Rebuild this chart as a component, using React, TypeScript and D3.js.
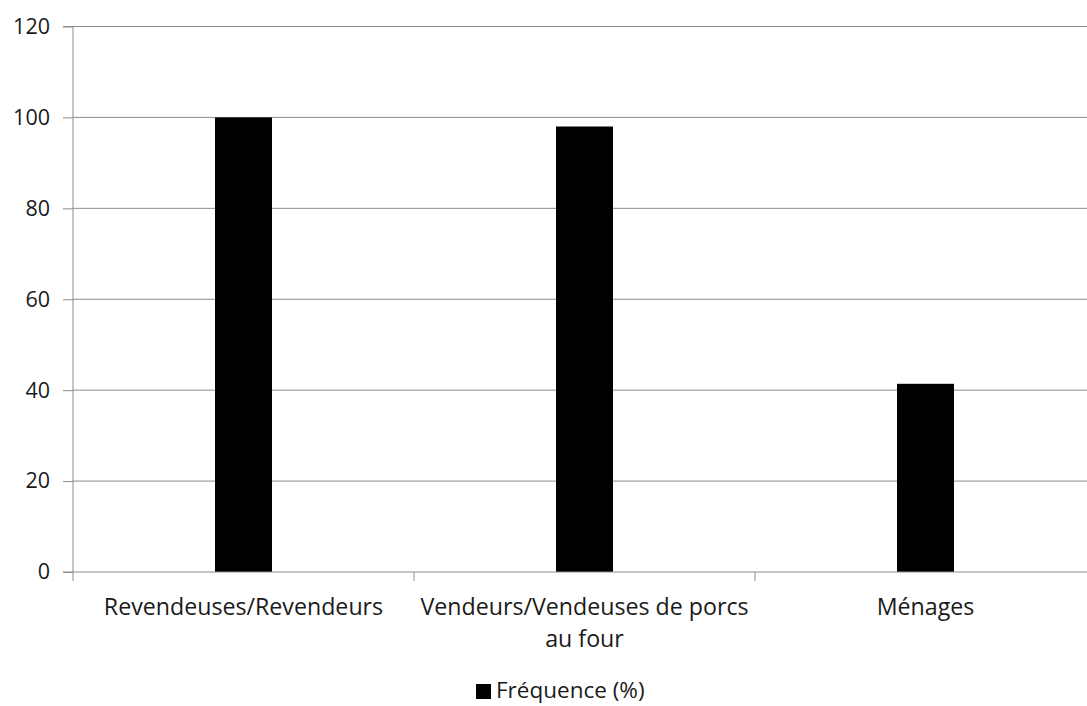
import React, { useEffect, useRef } from "react";
import * as d3 from "d3";

const categories = ["Revendeuses/Revendeurs", "Vendeurs/Vendeuses de porcs au four", "Ménages"];
const values = [100, 98, 41.4];
const seriesName = "Fréquence (%)";
const yTicks = [0, 20, 40, 60, 80, 100, 120];

const W = 1087;
const H = 706;
const FONT = "'Open Sans', sans-serif";
const FS = 21.5;
const FS_CAT = 23.2;
const TXT = "#1a1a1a";

export default function App() {
  const ref = useRef<SVGSVGElement | null>(null);

  useEffect(() => {
    const svg = d3.select(ref.current);
    svg.selectAll("*").remove();

    const left = 73;
    const top = 26.5;
    const bottom = 572;
    const band = 341;
    const x = d3.scaleBand<string>().domain(categories).range([left, left + band * categories.length]).paddingInner(0).paddingOuter(0);
    const y = d3.scaleLinear().domain([0, 120]).range([bottom, top]);
    const right = left + band * categories.length;

    // gridlines
    svg.append("g")
      .selectAll("line")
      .data(yTicks.filter((t) => t > 0))
      .join("line")
      .attr("x1", left)
      .attr("x2", right)
      .attr("y1", (d) => y(d))
      .attr("y2", (d) => y(d))
      .attr("stroke", "#8c8c8c")
      .attr("stroke-width", 1);

    // y axis
    const yAxis = svg.append("g").attr("transform", `translate(${left},0)`)
      .call(d3.axisLeft(y).tickValues(yTicks).tickSize(10).tickPadding(13));
    yAxis.select(".domain").attr("stroke", "#8c8c8c").attr("d", `M-10,${y(120)}H0V${bottom}H-10`);
    yAxis.selectAll(".tick line").attr("stroke", "#8c8c8c");
    yAxis.selectAll("text").attr("font-family", FONT).attr("font-size", FS).attr("fill", TXT);

    // bars
    const bw = 57;
    svg.append("g")
      .selectAll("rect")
      .data(categories)
      .join("rect")
      .attr("x", (d) => (x(d) as number) + x.bandwidth() / 2 - bw / 2)
      .attr("width", bw)
      .attr("y", (_d, i) => y(values[i]))
      .attr("height", (_d, i) => bottom - y(values[i]))
      .attr("fill", "#000");

    // x axis
    svg.append("line").attr("x1", left).attr("x2", right).attr("y1", bottom).attr("y2", bottom).attr("stroke", "#8c8c8c");
    const tickXs = d3.range(categories.length + 1).map((i) => left + i * band);
    svg.append("g").selectAll("line").data(tickXs).join("line")
      .attr("x1", (d) => d).attr("x2", (d) => d)
      .attr("y1", bottom).attr("y2", bottom + 9)
      .attr("stroke", "#8c8c8c");

    // category labels with wrapping
    const maxW = 340;
    const lg = svg.append("g");
    categories.forEach((c) => {
      const cx = (x(c) as number) + x.bandwidth() / 2;
      const t = lg.append("text")
        .attr("x", cx)
        .attr("y", 615)
        .attr("text-anchor", "middle")
        .attr("font-family", FONT)
        .attr("font-size", FS_CAT)
        .attr("fill", TXT);
      const words = c.split(" ");
      let line: string[] = [];
      let tspan = t.append("tspan").attr("x", cx).attr("dy", 0);
      for (const w of words) {
        line.push(w);
        tspan.text(line.join(" "));
        const node = tspan.node() as SVGTextContentElement;
        if (node.getComputedTextLength() > maxW && line.length > 1) {
          line.pop();
          tspan.text(line.join(" "));
          line = [w];
          tspan = t.append("tspan").attr("x", cx).attr("dy", 32).text(w);
        }
      }
    });

    // legend
    const legend = svg.append("g");
    legend.append("rect").attr("x", 476).attr("y", 684).attr("width", 15).attr("height", 15).attr("fill", "#000");
    legend.append("text")
      .attr("x", 496)
      .attr("y", 698)
      .attr("font-family", FONT)
      .attr("font-size", 22.5)
      .attr("fill", TXT)
      .text(seriesName);
  }, []);

  return (
    <svg ref={ref} width={W} height={H} style={{ position: "absolute", left: 0, top: 0, background: "#fff" }} />
  );
}
